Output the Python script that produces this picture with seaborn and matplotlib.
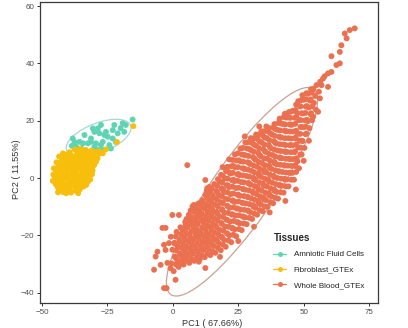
import numpy as np
import pandas as pd
import matplotlib
matplotlib.use("Agg")
import matplotlib.pyplot as plt
from matplotlib.patches import Ellipse
from matplotlib.lines import Line2D
import seaborn as sns

tissues = ["Amniotic Fluid Cells", "Fibroblast_GTEx", "Whole Blood_GTEx"]
point_colors = ["#5ED4B4", "#F7BE0C", "#EA7050"]
ellipse_colors = ["#A6D9CE", "#F6D680", "#C9A292"]
x_ticks = [-50, -25, 0, 25, 50, 75]
y_ticks = [-40, -20, 0, 20, 40, 60]
x_label = "PC1 ( 67.66%)"
y_label = "PC2 ( 11.55%)"
legend_title = "Tissues"

# 95% ellipses (data units): centre, semi-axes, angle (deg)
ellipse_cx = [-28.4, -37.0, 26.4]
ellipse_cy = [14.0, 2.5, -4.8]
ellipse_a = [13.0, 8.0, 45.0]
ellipse_b = [5.2, 5.0, 11.5]
ellipse_angle = [19.0, 45.0, 52.5]

amniotic_pts = [
    (-15.4, 20.4), (-18.0, 18.5), (-18.6, 16.1), (-19.2, 19.1), (-21.1, 15.6),
    (-23.0, 16.7), (-23.0, 13.8), (-24.9, 14.4), (-26.2, 15.0), (-26.8, 12.6),
    (-24.3, 11.5), (-23.7, 10.3), (-26.8, 9.8), (-28.7, 9.8), (-30.0, 10.9),
    (-31.3, 12.6), (-32.5, 12.1), (-34.4, 12.1), (-35.7, 12.6), (-37.6, 12.6),
    (-38.3, 13.8), (-33.8, 15.0), (-30.0, 16.1), (-28.7, 17.3), (-30.6, 17.3),
    (-31.3, 13.8), (-29.4, 12.1), (-27.5, 11.5), (-35.1, 10.3), (-37.0, 10.9),
    (-33.2, 9.2), (-36.3, 8.6), (-22.4, 18.5), (-27.5, 18.5), (-21.8, 12.6),
    (-25.6, 16.1), (-28.1, 15.6), (-20.0, 17.4), (-34.4, 8.0), (-38.6, 11.2),
]

fibro_pts = [
    (-43.5, -4.2), (-41.4, -4.6), (-39.6, -3.9), (-37.4, -4.4), (-35.6, -4.0),
    (-44.8, -2.1), (-42.7, -1.8), (-40.9, -2.3), (-38.7, -1.9), (-36.9, -2.2), (-34.8, -1.7), (-33.1, -2.4),
    (-45.1, 0.2), (-43.0, -0.2), (-41.1, 0.3), (-38.9, -0.1), (-37.0, 0.2), (-35.1, -0.3), (-33.0, 0.1), (-31.6, -0.5),
    (-44.6, 2.1), (-42.5, 1.8), (-40.7, 2.3), (-38.5, 1.9), (-36.7, 2.2), (-34.5, 1.7), (-32.7, 2.3), (-30.7, 2.6),
    (-43.8, 4.1), (-41.7, 3.8), (-39.9, 4.3), (-37.7, 3.9), (-35.9, 4.2), (-33.7, 3.8), (-31.9, 4.3), (-30.1, 4.5),
    (-42.4, 6.1), (-40.6, 5.8), (-38.4, 6.3), (-36.6, 5.9), (-34.4, 6.2), (-32.6, 5.8), (-30.4, 6.3), (-28.8, 6.8),
    (-40.5, 8.1), (-38.7, 7.8), (-36.5, 8.3), (-34.7, 7.9), (-32.5, 8.2), (-30.6, 8.0), (-28.3, 8.4),
    (-37.5, 9.9), (-35.4, 10.2), (-33.3, 9.8), (-31.1, 9.6),
    (-44.1, -3.1), (-42.0, -2.9), (-40.1, -3.2), (-37.9, -2.8), (-36.0, -3.1), (-34.2, -3.0),
    (-44.0, -1.0), (-42.1, -0.9), (-39.9, -1.1), (-38.0, -0.8), (-36.1, -1.2), (-33.9, -0.9), (-32.3, -1.1),
    (-44.1, 1.0), (-41.9, 1.1), (-40.0, 0.9), (-38.1, 1.2), (-35.9, 0.8), (-34.0, 1.1), (-32.1, 0.9), (-30.9, 1.3),
    (-43.2, 3.0), (-41.0, 2.9), (-39.1, 3.2), (-37.0, 2.8), (-35.1, 3.1), (-32.9, 2.9), (-31.0, 3.3),
    (-43.0, 5.0), (-41.1, 4.9), (-38.9, 5.2), (-37.0, 4.8), (-35.1, 5.1), (-32.9, 4.9), (-31.0, 5.2), (-29.4, 5.6),
    (-41.5, 7.0), (-39.6, 6.9), (-37.4, 7.2), (-35.5, 6.8), (-33.6, 7.1), (-31.4, 7.0), (-29.5, 7.3),
    (-39.5, 9.0), (-36.6, 9.2), (-34.4, 8.9), (-32.5, 9.1), (-30.0, 9.0), (-28.6, 9.3),
    (-43.5, 7.5), (-44.5, 5.5), (-45.5, 3.4), (-42.0, 8.6), (-26.8, 8.6), (-40.8, -5.3),
    (-15.1, 18.1), (-21.4, 12.6), (-25.6, 10.0), (-45.9, -1.0), (-45.7, 1.2),
    (-43.9, -5.0), (-36.2, -5.3), (-27.3, 8.9), (-42.0, -4.9), (-39.0, -5.1),
]

blood_pts = [
    (0.3, -32.5), (-0.5, -29.8), (0.8, -27.4), (-0.2, -25.0), (0.6, -22.6), (-0.8, -20.5),
    (2.2, -31.0), (1.6, -28.6), (2.7, -26.3), (1.9, -23.9), (2.5, -21.4), (1.4, -18.8),
    (4.1, -30.2), (3.6, -27.7), (4.6, -25.5), (3.9, -23.1), (4.4, -20.6), (3.7, -18.1), (4.8, -15.6),
    (6.3, -29.6), (5.7, -27.0), (6.6, -24.7), (5.9, -22.2), (6.4, -19.8), (5.6, -17.3), (6.7, -14.9), (6.1, -12.8),
    (8.2, -28.9), (7.6, -26.4), (8.7, -24.0), (7.9, -21.6), (8.5, -19.1), (7.7, -16.8), (8.8, -14.3), (8.1, -11.8), (7.5, -9.9),
    (10.3, -28.3), (9.6, -25.8), (10.7, -23.5), (9.9, -21.0), (10.4, -18.6), (9.5, -16.1), (10.8, -13.9), (10.1, -11.3), (9.7, -8.9),
    (12.2, -27.6), (11.6, -25.1), (12.7, -22.8), (11.9, -20.4), (12.5, -17.9), (11.7, -15.5), (12.8, -13.1), (12.1, -10.6), (11.5, -8.3), (12.4, -5.9),
    (14.3, -26.9), (13.6, -24.5), (14.7, -22.1), (13.8, -19.7), (14.5, -17.3), (13.7, -14.8), (14.8, -12.4), (14.1, -10.0), (13.6, -7.6), (14.4, -5.2), (13.9, -3.1),
    (16.2, -26.1), (15.6, -23.7), (16.7, -21.4), (15.9, -19.0), (16.4, -16.6), (15.7, -14.1), (16.8, -11.8), (16.1, -9.3), (15.5, -6.9), (16.6, -4.5), (15.8, -2.1),
    (18.3, -25.2), (17.6, -22.8), (18.7, -20.5), (17.9, -18.1), (18.5, -15.7), (17.7, -13.3), (18.8, -10.9), (18.1, -8.4), (17.5, -6.0), (18.6, -3.6), (17.9, -1.2), (18.4, 1.1),
    (20.2, -24.0), (19.6, -21.6), (20.7, -19.3), (19.9, -16.9), (20.4, -14.5), (19.7, -12.1), (20.8, -9.7), (20.1, -7.3), (19.5, -4.9), (20.6, -2.5), (19.8, -0.1), (20.3, 2.4),
    (22.3, -22.4), (21.6, -20.0), (22.7, -17.6), (21.9, -15.2), (22.5, -12.8), (21.7, -10.4), (22.8, -8.0), (22.1, -5.6), (21.5, -3.2), (22.6, -0.8), (21.9, 1.6), (22.4, 4.1),
    (24.2, -20.3), (23.6, -17.9), (24.7, -15.5), (23.9, -13.1), (24.4, -10.7), (23.7, -8.3), (24.8, -5.9), (24.1, -3.5), (23.5, -1.1), (24.6, 1.3), (23.8, 3.7), (24.3, 6.1), (23.7, 8.2),
    (26.3, -18.2), (25.6, -15.8), (26.7, -13.4), (25.9, -11.0), (26.5, -8.6), (25.7, -6.2), (26.8, -3.8), (26.1, -1.4), (25.5, 1.0), (26.6, 3.4), (25.9, 5.8), (26.4, 8.2), (25.8, 10.3),
    (28.2, -16.1), (27.6, -13.7), (28.7, -11.3), (27.9, -8.9), (28.4, -6.5), (27.7, -4.1), (28.8, -1.7), (28.1, 0.7), (27.5, 3.1), (28.6, 5.5), (27.8, 7.9), (28.3, 10.3), (27.7, 12.4),
    (30.3, -14.3), (29.6, -11.9), (30.7, -9.5), (29.9, -7.1), (30.5, -4.7), (29.7, -2.3), (30.8, 0.1), (30.1, 2.5), (29.5, 4.9), (30.6, 7.3), (29.9, 9.7), (30.4, 12.1), (29.8, 13.9),
    (32.2, -12.8), (31.6, -10.4), (32.7, -8.0), (31.9, -5.6), (32.4, -3.2), (31.7, -0.8), (32.8, 1.6), (32.1, 4.0), (31.5, 6.4), (32.6, 8.8), (31.9, 11.2), (32.3, 13.6), (31.8, 15.2),
    (34.3, -11.6), (33.6, -9.2), (34.7, -6.8), (33.9, -4.4), (34.5, -2.0), (33.7, 0.4), (34.8, 2.8), (34.1, 5.2), (33.5, 7.6), (34.6, 10.0), (33.9, 12.4), (34.4, 14.8), (33.8, 16.3),
    (36.2, -10.1), (35.6, -7.7), (36.7, -5.3), (35.9, -2.9), (36.4, -0.5), (35.7, 1.9), (36.8, 4.3), (36.1, 6.7), (35.5, 9.1), (36.6, 11.5), (35.9, 13.9), (36.3, 16.3), (35.7, 18.0),
    (38.3, -8.8), (37.6, -6.4), (38.7, -4.0), (37.9, -1.6), (38.5, 0.8), (37.7, 3.2), (38.8, 5.6), (38.1, 8.0), (37.5, 10.4), (38.6, 12.8), (37.9, 15.2), (38.4, 17.6),
    (40.2, -7.2), (39.6, -4.8), (40.7, -2.4), (39.9, 0.0), (40.4, 2.4), (39.7, 4.8), (40.8, 7.2), (40.1, 9.6), (39.5, 12.0), (40.6, 14.4), (39.9, 16.8), (40.3, 19.2),
    (42.3, -5.1), (41.6, -2.7), (42.7, -0.3), (41.9, 2.1), (42.5, 4.5), (41.7, 6.9), (42.8, 9.3), (42.1, 11.7), (41.5, 14.1), (42.6, 16.5), (41.9, 18.9), (42.4, 21.3),
    (44.2, -2.9), (43.6, -0.5), (44.7, 1.9), (43.9, 4.3), (44.4, 6.7), (43.7, 9.1), (44.8, 11.5), (44.1, 13.9), (43.5, 16.3), (44.6, 18.7), (43.9, 21.1), (44.3, 23.0),
    (46.3, -0.6), (45.6, 1.8), (46.7, 4.2), (45.9, 6.6), (46.5, 9.0), (45.7, 11.4), (46.8, 13.8), (46.1, 16.2), (45.5, 18.6), (46.6, 21.0), (45.9, 23.4),
    (48.2, 3.4), (47.6, 5.8), (48.7, 8.2), (47.9, 10.6), (48.4, 13.0), (47.7, 15.4), (48.8, 17.8), (48.1, 20.2), (47.5, 22.6), (48.6, 25.0), (47.9, 26.8),
    (50.3, 10.5), (49.6, 12.9), (50.7, 15.3), (49.9, 17.7), (50.5, 20.1), (49.7, 22.5), (50.8, 24.9), (50.1, 27.3), (49.5, 28.9),
    (52.2, 17.4), (51.6, 19.8), (52.7, 22.2), (51.9, 24.6), (52.4, 27.0), (51.7, 29.4), (52.8, 31.0),
    (53.6, 21.4), (54.7, 23.8), (53.9, 26.2), (54.4, 28.6), (53.7, 31.1),
    (55.5, 23.1), (56.2, 27.8), (56.8, 32.4), (55.8, 30.1), (56.3, 33.6),
    (57.4, 34.7), (59.3, 31.8), (59.3, 36.5), (60.6, 37.0), (60.6, 42.5), (62.5, 39.4), (63.8, 40.0),
    (63.8, 44.0), (64.4, 46.3), (66.4, 48.7), (65.7, 50.4), (67.6, 51.6), (69.5, 52.2), (54.9, 32.4), (58.0, 35.5),
    # interleaved core points
    (1.2, -30.2), (0.8, -27.6), (1.3, -25.3), (0.7, -22.9), (1.1, -20.4),
    (3.2, -29.3), (2.8, -26.9), (3.3, -24.4), (2.7, -22.1), (3.1, -19.6), (2.9, -17.2),
    (5.2, -28.8), (4.8, -26.3), (5.3, -24.0), (4.7, -21.5), (5.1, -19.1), (4.9, -16.6), (5.2, -14.3),
    (7.1, -28.2), (6.8, -25.8), (7.3, -23.3), (6.7, -20.9), (7.2, -18.5), (6.9, -16.0), (7.1, -13.6), (6.8, -11.3),
    (9.2, -27.5), (8.8, -25.1), (9.3, -22.7), (8.7, -20.2), (9.1, -17.9), (8.9, -15.4), (9.2, -13.0), (8.8, -10.6),
    (11.1, -26.9), (10.8, -24.5), (11.3, -22.1), (10.7, -19.6), (11.2, -17.2), (10.9, -14.8), (11.1, -12.4), (10.8, -9.9), (11.2, -7.7),
    (13.2, -26.2), (12.8, -23.8), (13.3, -21.4), (12.7, -19.0), (13.1, -16.5), (12.9, -14.1), (13.2, -11.7), (12.8, -9.3), (13.1, -6.8), (12.9, -4.6),
    (15.1, -25.5), (14.8, -23.0), (15.3, -20.6), (14.7, -18.2), (15.2, -15.8), (14.9, -13.4), (15.1, -11.0), (14.8, -8.6), (15.2, -6.1), (14.9, -3.7),
    (17.2, -24.4), (16.8, -22.0), (17.3, -19.6), (16.7, -17.2), (17.1, -14.8), (16.9, -12.4), (17.2, -9.9), (16.8, -7.5), (17.1, -5.1), (16.9, -2.7), (17.2, -0.4),
    (19.1, -23.2), (18.8, -20.8), (19.3, -18.4), (18.7, -16.0), (19.2, -13.6), (18.9, -11.2), (19.1, -8.8), (18.8, -6.4), (19.2, -4.0), (18.9, -1.6), (19.1, 0.8),
    (21.2, -21.8), (20.8, -19.4), (21.3, -17.0), (20.7, -14.6), (21.1, -12.2), (20.9, -9.8), (21.2, -7.4), (20.8, -5.0), (21.1, -2.6), (20.9, -0.2), (21.2, 2.2), (20.8, 3.9),
    (23.1, -19.8), (22.8, -17.4), (23.3, -15.0), (22.7, -12.6), (23.2, -10.2), (22.9, -7.8), (23.1, -5.4), (22.8, -3.0), (23.2, -0.6), (22.9, 1.8), (23.1, 4.2), (22.8, 6.3),
    (25.2, -17.8), (24.8, -15.4), (25.3, -13.0), (24.7, -10.6), (25.1, -8.2), (24.9, -5.8), (25.2, -3.4), (24.8, -1.0), (25.1, 1.4), (24.9, 3.8), (25.2, 6.2), (24.8, 8.6),
    (27.1, -15.9), (26.8, -13.5), (27.3, -11.1), (26.7, -8.7), (27.2, -6.3), (26.9, -3.9), (27.1, -1.5), (26.8, 0.9), (27.2, 3.3), (26.9, 5.7), (27.1, 8.1), (26.8, 10.5),
    (29.2, -13.9), (28.8, -11.5), (29.3, -9.1), (28.7, -6.7), (29.1, -4.3), (28.9, -1.9), (29.2, 0.5), (28.8, 2.9), (29.1, 5.3), (28.9, 7.7), (29.2, 10.1), (28.8, 12.5),
    (31.1, -12.4), (30.8, -10.0), (31.3, -7.6), (30.7, -5.2), (31.2, -2.8), (30.9, -0.4), (31.1, 2.0), (30.8, 4.4), (31.2, 6.8), (30.9, 9.2), (31.1, 11.6), (30.8, 13.8),
    (33.2, -11.2), (32.8, -8.8), (33.3, -6.4), (32.7, -4.0), (33.1, -1.6), (32.9, 0.8), (33.2, 3.2), (32.8, 5.6), (33.1, 8.0), (32.9, 10.4), (33.2, 12.8), (32.8, 15.1),
    (35.1, -9.9), (34.8, -7.5), (35.3, -5.1), (34.7, -2.7), (35.2, -0.3), (34.9, 2.1), (35.1, 4.5), (34.8, 6.9), (35.2, 9.3), (34.9, 11.7), (35.1, 14.1), (34.8, 16.3),
    (37.2, -8.4), (36.8, -6.0), (37.3, -3.6), (36.7, -1.2), (37.1, 1.2), (36.9, 3.6), (37.2, 6.0), (36.8, 8.4), (37.1, 10.8), (36.9, 13.2), (37.2, 15.6), (36.8, 17.4),
    (39.1, -6.9), (38.8, -4.5), (39.3, -2.1), (38.7, 0.3), (39.2, 2.7), (38.9, 5.1), (39.1, 7.5), (38.8, 9.9), (39.2, 12.3), (38.9, 14.7), (39.1, 17.1), (38.8, 18.8),
    (41.2, -5.0), (40.8, -2.6), (41.3, -0.2), (40.7, 2.2), (41.1, 4.6), (40.9, 7.0), (41.2, 9.4), (40.8, 11.8), (41.1, 14.2), (40.9, 16.6), (41.2, 19.0), (40.8, 20.7),
    (43.1, -2.9), (42.8, -0.5), (43.3, 1.9), (42.7, 4.3), (43.2, 6.7), (42.9, 9.1), (43.1, 11.5), (42.8, 13.9), (43.2, 16.3), (42.9, 18.7), (43.1, 21.1), (42.8, 22.4),
    (45.2, -0.6), (44.8, 1.8), (45.3, 4.2), (44.7, 6.6), (45.1, 9.0), (44.9, 11.4), (45.2, 13.8), (44.8, 16.2), (45.1, 18.6), (44.9, 21.0), (45.2, 23.2),
    (47.1, 2.1), (46.8, 4.5), (47.3, 6.9), (46.7, 9.3), (47.2, 11.7), (46.9, 14.1), (47.1, 16.5), (46.8, 18.9), (47.2, 21.3), (46.9, 23.7), (47.1, 25.6),
    (49.2, 8.2), (48.8, 10.6), (49.3, 13.0), (48.7, 15.4), (49.1, 17.8), (48.9, 20.2), (49.2, 22.6), (48.8, 25.0), (49.1, 27.2),
    (51.1, 15.5), (50.8, 17.9), (51.3, 20.3), (50.7, 22.7), (51.2, 25.1), (50.9, 27.5), (51.1, 29.6),
    (53.2, 20.2), (52.8, 22.6), (53.3, 25.0), (52.7, 27.4), (53.1, 29.8),
    # scattered outer points
    (-3.4, -38.4), (-2.4, -38.4), (1.0, -35.5), (-7.2, -32.0), (-4.7, -30.3), (-2.1, -29.6), (-5.9, -25.7),
    (-2.8, -25.1), (-6.6, -27.4), (-3.4, -23.3), (-1.5, -22.7), (-4.0, -17.4), (-2.8, -17.4), (-0.2, -12.9),
    (2.3, -12.9), (8.0, -9.4), (10.5, -8.7), (14.3, -5.2), (4.8, -15.2), (7.4, -15.7), (12.4, -31.4),
    (9.9, -29.2), (4.2, -28.0), (2.9, -29.7), (-0.9, -31.5), (5.5, 4.5),
    (12.4, -0.7), (13.1, -3.6), (21.5, 6.5), (27.5, 14.5), (33.0, 18.0), (19.0, 3.8),
    (18.0, -27.5), (25.0, -22.0), (31.0, -17.0), (37.0, -12.0), (43.0, -8.0), (47.0, -4.0), (50.0, 6.0), (52.0, 13.0),
]

rows = []
for name, pts in zip(tissues, [amniotic_pts, fibro_pts, blood_pts]):
    for (px, py) in pts:
        rows.append({"PC1": px, "PC2": py, "Tissues": name})
df = pd.DataFrame(rows)

sns.set_theme(style="white")
plt.rcParams["font.family"] = ["Liberation Sans", "DejaVu Sans"]

fig = plt.figure(figsize=(4.08, 3.28), dpi=100)
ax = fig.add_axes([40 / 408, 1 - 303 / 328, 338 / 408, 301 / 328])

palette = dict(zip(tissues, point_colors))
sns.scatterplot(data=df, x="PC1", y="PC2", hue="Tissues", palette=palette,
                s=18, linewidth=0, alpha=1, legend=False, ax=ax, zorder=3)

for cx, cy, a, b, ang, ecol in zip(ellipse_cx, ellipse_cy, ellipse_a, ellipse_b,
                                   ellipse_angle, ellipse_colors):
    ax.add_patch(Ellipse((cx, cy), 2 * a, 2 * b, angle=ang, fill=False,
                         edgecolor=ecol, linewidth=0.9, zorder=2))

ax.set_xlim(-50.8, 78.4)
ax.set_ylim(-43.6, 61.4)
ax.set_xticks(x_ticks)
ax.set_yticks(y_ticks)
ax.tick_params(axis="both", which="major", labelsize=5.8, colors="#333333",
               labelcolor="#4D4D4D", length=2.5, width=0.7, direction="out",
               bottom=True, left=True, pad=1.5)
for side in ["left", "bottom", "right", "top"]:
    ax.spines[side].set_color("#3A3A3A")
    ax.spines[side].set_linewidth(0.9)
ax.set_xlabel(x_label, fontsize=6.6, color="#333333")
ax.set_ylabel(y_label, fontsize=6.6, color="#333333")
ax.xaxis.set_label_coords(0.51, -0.052)
ax.yaxis.set_label_coords(-0.055, 0.445)

handles = [Line2D([0], [0], color=c, marker="o", markersize=3.6, linewidth=0.9,
                  markeredgewidth=0, label=t) for t, c in zip(tissues, point_colors)]
leg = ax.legend(handles=handles, title=legend_title, loc="lower right",
                bbox_to_anchor=(0.975, 0.028), frameon=False, fontsize=5.8,
                title_fontsize=7, handlelength=1.6, handletextpad=0.9,
                labelspacing=0.95, borderpad=0.2)
leg.get_title().set_fontweight("bold")
leg._legend_box.align = "left"
for txt in leg.get_texts():
    txt.set_color("#222222")

fig.savefig("out.png", dpi=100)
